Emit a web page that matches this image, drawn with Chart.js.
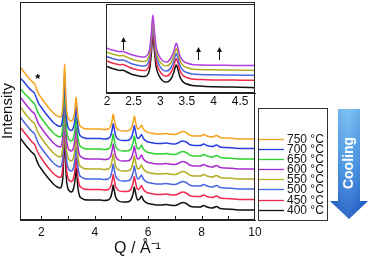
<!DOCTYPE html>
<html><head><meta charset="utf-8">
<script src="https://cdn.jsdelivr.net/npm/chart.js@4.4.1/dist/chart.umd.min.js"></script>
<style>
html,body{margin:0;padding:0;background:#fff;}
#wrap{position:relative;width:369px;height:258px;overflow:hidden;background:#fff;}
canvas{position:absolute;top:0;}
#main{left:0;}
#inset{left:100px;}
</style></head><body>
<div id="wrap"><canvas id="main" width="369" height="258"></canvas><canvas id="inset" width="160" height="110"></canvas></div>
<script>
// ---------- main panel data ----------
const q = [1.2,1.35,1.5,1.65,1.75,1.82,1.9,2.0,2.15,2.3,
  2.45,2.6,2.7,2.76,2.81,2.85,2.87,2.89,2.93,2.98,
  3.05,3.12,3.2,3.26,3.3,3.33,3.37,3.43,3.5,3.6,
  3.75,3.9,4.05,4.2,4.35,4.5,4.6,4.66,4.69,4.72,
  4.78,4.9,5.05,5.2,5.35,5.44,5.48,5.52,5.6,5.68,
  5.75,5.82,5.95,6.1,6.3,6.5,6.65,6.8,7.0,7.15,
  7.22,7.3,7.38,7.45,7.55,7.75,7.95,8.08,8.2,8.4,
  8.56,8.7,8.9,9.2,9.5,10.0];

const T750 = [153,148,143,138.5,136,131,126,122,116.5,111.5,
  107,104,103,105,116,143,156,143,115,104,
  100,99,102,111,123,116,103,95,93,91.5,
  91,91,91,91,90.5,91,94,101,106,102,
  94,90,89,89,91,98,104,99,91,92,
  95,91,88,87,86,86,86.5,86,85.5,87,
  88,88.5,88,87,85,84,84,85.5,84,83,
  84.5,82.5,82,81.5,81,81];
const T700 = [142,138,133,129,126.5,121.5,116.5,112.5,107,102,
  97.5,94.5,93.5,95.5,106.5,133.5,146.5,133.5,105.5,94.5,
  90.5,89.5,92.5,101.5,113.5,106.5,93.5,85.5,83.5,82,
  81.5,81.5,81.5,81.5,81,81.5,84.5,91.5,96.5,92.5,
  84.5,80.5,79.5,79.5,81.5,88.5,94.5,89.5,81.5,82.5,
  85.5,81.5,78.5,77.5,76.5,76.5,77,76.5,76,77.5,
  78.5,79,78.5,77.5,75.5,74.5,74.5,76,74.5,73.5,
  75,73,72.5,72,71.5,71.5];
const T650 = [132,127,123,118.5,116,111,106,102,96.5,91.5,
  87,84,83,85,96,123,136,123,95,84,
  80,79,82,91,103,96,83,75,73,71.5,
  71,71,71,71,70.5,71,74,81,86,82,
  74,70,69,69,71,78,84,79,71,72,
  75,71,68,67,66,66,66.5,66,65.5,67,
  68,68.5,68,67,65,64,64,65.5,64,63,
  64.5,62.5,62,61.5,61,61];
const T600 = [123,118,113,108.5,106,101,96,92,86.5,81.5,
  77,74,73,75,86,113,126,113,85,74,
  70,69,72,81,93,86,73,65,63,61.5,
  61,61,61,61,60.5,61,64,71,76,72,
  64,60,59,59,61,68,74,69,61,62,
  65,61,58,57,56,56,56.5,56,55.5,57,
  58,58.5,58,57,55,54,54,55.5,54,53,
  54.5,52.5,52,51.5,51,51];
const T550 = [114,108,103,98.5,96,91,86,82,76.5,71.5,
  67,64,63,65,76,103,116,103,75,64,
  60,59,62,71,83,76,63,55,53,51.5,
  51,51,51,51,50.5,51,54,61,66,62,
  54,50,49,49,51,58,64,59,51,52,
  55,51,48,47,46,46,46.5,46,45.5,47,
  48,48.5,48,47,45,44,44,45.5,44,43,
  44.5,42.5,42,41.5,41,41];
const T500 = [103.5,98,93,88.5,86,81,76,72,66.5,61.5,
  57,54,53,55,66,93,106,93,65,54,
  50,49,52,61,73,66,53,45,43,41.5,
  41,41,41,41,40.5,41,44,51,56,52,
  44,40,39,39,41,48,54,49,41,42,
  45,41,38,37,36,36,36.5,36,35.5,37,
  38,38.5,38,37,35,34,34,35.5,34,33,
  34.5,32.5,32,31.5,31,31];
const T450 = [93,88,83,78,75.5,70.5,66,62,56,51,
  46.5,43.5,42.5,44.5,56,83,96,83,55,43.5,
  39.5,38.5,41.5,50.5,63,55.5,42.5,34.5,32.5,31,
  30.5,30.5,30.5,30.5,30,30.5,33.5,40.5,45.5,41.5,
  33.5,29.5,28.5,28.5,30.5,37.5,43.5,38.5,30.5,31.5,
  34.5,30.5,27.5,26.5,25.5,25.5,26,25.5,25,26.5,
  27.5,28,27.5,26.5,24.5,23.5,23.5,25,23.5,22.5,
  24,22,21.5,21,20.5,20.5];
const T400 = [82,77,72,67.5,65,60,55,51,45.5,40.5,
  36,33,32,34,45,72,85,72,44,33,
  29,28,31,40,52,45,32,24,22,20.5,
  20,20,20,20,19.5,20,23,30,35,31,
  23,19,18,18,20,27,33,28,20,21,
  24,20,17,16,15,15,15.5,15,14.5,16,
  17,17.5,17,16,14,13,13,14.5,13,12,
  13.5,11.5,11,10.5,10,10];

const seriesLabels = ['750 °C','700 °C','650 °C','600 °C','550 °C','500 °C','450 °C','400 °C'];
const mainTicks = [2,4,6,8,10];
const mainTickLabels = ['2','4','6','8','10'];
const mainMinorTicks = [2,3,4,5,6,7,8,9];
const starQ = 1.87;
const starValue = 141;

// ---------- inset data ----------
const qIn = [2.0,2.1,2.2,2.25,2.3,2.35,2.45,2.55,2.65,2.72,
  2.77,2.8,2.83,2.86,2.89,2.92,2.97,3.05,3.12,3.2,
  3.25,3.28,3.3,3.33,3.37,3.43,3.5,3.6,3.75,4.0,
  4.25,4.5,4.78];
const In600 = [44.7,43,41.7,41.3,41.5,40.5,38.5,37,36,36.3,
  39,44,58,78,62,47,38,32,31,35,
  41,47,50,45.5,37,32,30,28.5,28,27.8,
  27.7,27.5,27.5];
const In550 = [40.7,39,37.7,37.2,37.4,36.5,34,32.5,31.5,31.7,
  34.5,39.5,53.5,73.5,57.5,42.5,33.5,28,27,30.5,
  36.5,42,44.5,40.5,32.5,27.5,25.5,24,23.5,23.2,
  23,22.8,22.6];
const In500 = [36.3,34.5,33.2,32.8,33,32,29.5,28,27,27.2,
  30,35,49,69,53,38,29,23,22,25.5,
  31.5,37,39.5,35.5,27.5,22.5,20.5,19,18.5,18.2,
  18,17.8,17.6];
const In450 = [32,30,28.7,28.3,28.6,27.5,25,23.5,22.5,22.5,
  25,30,44,64,48,33,24,18,17,20.5,
  26.5,32,34.5,30.5,22.5,17.5,15.5,14,13.5,13,
  13,12.8,12.6];
const In400 = [26.5,24.5,23,22.5,22.8,21.5,19,17.5,16.5,16.5,
  19,24,38,58,42,27,18,12,11,14,
  20,25.5,28,24,16,11,9,7.5,7,6.3,
  6,5.7,5.3];
const insetLabels = ['600 °C','550 °C','500 °C','450 °C','400 °C'];
const insetTicks = [2,2.5,3,3.5,4,4.5];
const insetTickLabels = ['2','2.5','3','3.5','4','4.5'];
const arrowQ = [2.3,3.7,4.1];
const arrowFrom = [43,33,33];
const arrowTo = [56,46,46];

// ---------- styles ----------
const FONT = '"Liberation Sans", Arial, Helvetica, sans-serif';
Chart.defaults.font.family = FONT;
Chart.defaults.color = '#000';
const mainColors = ['#f5a21e','#2b3fe0','#2fd22f','#a92bd0','#b3ad22','#4a66e0','#f02a4c','#111111'];
const insetColors = ['#b13ee0','#b3ad22','#4a66e0','#f02a4c','#111111'];

function mk(xs, ys){ return xs.map((x,i)=>({x:x, y:ys[i]})); }

const mainSeries = [T750,T700,T650,T600,T550,T500,T450,T400];
const mainDatasets = mainSeries.map((s,i)=>({
  label: seriesLabels[i], data: mk(q,s), borderColor: mainColors[i],
  borderWidth: 1.5, pointRadius: 0, cubicInterpolationMode: 'monotone', fill: false,
  order: i
}));

const mainDecor = {
  id: 'mainDecor',
  afterDraw(chart){
    const {ctx, chartArea:a, scales:{x,y}} = chart;
    ctx.save();
    ctx.strokeStyle = '#222'; ctx.lineWidth = 1;
    ctx.strokeRect(Math.round(a.left)+0.5, Math.round(a.top)+0.5, Math.round(a.right-a.left)-1, Math.round(a.bottom-a.top)-1);
    mainMinorTicks.forEach(v=>{
      const px = Math.round(x.getPixelForValue(v))+0.5;
      ctx.beginPath(); ctx.moveTo(px, a.bottom-1); ctx.lineTo(px, a.bottom-4); ctx.stroke();
    });
    // star
    ctx.fillStyle = '#000';
    ctx.font = 'bold 13px ' + FONT;
    ctx.textAlign = 'center'; ctx.textBaseline = 'middle';
    ctx.fillText('*', x.getPixelForValue(starQ), y.getPixelForValue(starValue));
    // legend box
    ctx.strokeStyle = '#333';
    ctx.strokeRect(258.5, 108.5, 69, 112);
    ctx.font = '12px ' + FONT;
    ctx.textAlign = 'left';
    chart.data.datasets.forEach((ds,i)=>{
      const last = ds.data[ds.data.length-1].y;
      const py = Math.round(y.getPixelForValue(last))+0.5;
      ctx.strokeStyle = ds.borderColor; ctx.lineWidth = 1.3;
      ctx.beginPath(); ctx.moveTo(259, py); ctx.lineTo(284, py); ctx.stroke();
      ctx.fillStyle = '#111';
      ctx.fillText(ds.label, 287, py+0.5);
    });
    // cooling arrow
    ctx.beginPath();
    ctx.moveTo(338,109); ctx.lineTo(360,109); ctx.lineTo(360,201); ctx.lineTo(368,201);
    ctx.lineTo(349,219); ctx.lineTo(330,201); ctx.lineTo(338,201); ctx.closePath();
    const g = ctx.createLinearGradient(0,109,0,219);
    g.addColorStop(0,'#6cbaf3'); g.addColorStop(0.55,'#3a8ee2'); g.addColorStop(1,'#1553c2');
    ctx.fillStyle = g; ctx.fill();
    const h = ctx.createLinearGradient(330,0,368,0);
    h.addColorStop(0,'rgba(0,40,140,0.25)'); h.addColorStop(0.45,'rgba(255,255,255,0.12)'); h.addColorStop(1,'rgba(0,40,140,0.2)');
    ctx.fillStyle = h; ctx.fill();
    ctx.translate(349,163); ctx.rotate(-Math.PI/2);
    ctx.fillStyle = '#fff'; ctx.font = 'bold 14px ' + FONT;
    ctx.textAlign = 'center'; ctx.textBaseline = 'middle';
    ctx.fillText('Cooling',0,0);
    ctx.restore();
  }
};

new Chart(document.getElementById('main'), {
  type: 'line',
  data: { datasets: mainDatasets },
  options: {
    responsive: false, animation: false, devicePixelRatio: 1,
    layout: { padding: { left:0, right:114, top:2, bottom:0 } },
    plugins: { legend:{display:false}, tooltip:{enabled:false} },
    scales: {
      x: {
        type:'linear', min:1.2, max:10,
        afterBuildTicks: s => { s.ticks = mainTicks.map(v=>({value:v})); },
        afterFit: s => { s.height = 38; },
        ticks: { font:{size:12}, color:'#111', padding:5, maxRotation:0, autoSkip:false,
          callback: (v,i) => mainTickLabels[i] },
        grid: { display:false, drawTicks:false },
        border: { display:true, color:'#222', width:1 },
        title: { display:true, text:'Q / Å⁻¹', font:{size:16, lineHeight:1.2}, color:'#111', padding:{top:0,bottom:0} }
      },
      y: {
        min:0, max:218,
        afterFit: s => { s.width = 20; },
        ticks: { display:false },
        grid: { display:false, drawTicks:false },
        border: { display:true, color:'#222', width:1 },
        title: { display:true, text:'Intensity', font:{size:15, lineHeight:1}, color:'#111', padding:{top:0,bottom:0} }
      }
    }
  },
  plugins: [mainDecor]
});

// ---------- inset ----------
const insetSeries = [In600,In550,In500,In450,In400];
const insetDecor = {
  id:'insetDecor',
  beforeDatasetsDraw(chart){
    const {ctx, chartArea:a} = chart;
    ctx.save(); ctx.fillStyle='#fff'; ctx.fillRect(a.left,a.top,a.right-a.left,a.bottom-a.top); ctx.restore();
  },
  afterDraw(chart){
    const {ctx, chartArea:a, scales:{x,y}} = chart;
    ctx.save();
    ctx.strokeStyle='#222'; ctx.lineWidth=1;
    ctx.strokeRect(Math.round(a.left)+0.5, Math.round(a.top)+0.5, Math.round(a.right-a.left)-1, Math.round(a.bottom-a.top)-1);
    ctx.fillStyle='#111'; ctx.strokeStyle='#111';
    arrowQ.forEach((v,i)=>{
      const px = Math.round(x.getPixelForValue(v))+0.5;
      const y0 = y.getPixelForValue(arrowFrom[i]);
      const y1 = y.getPixelForValue(arrowTo[i]);
      ctx.beginPath(); ctx.moveTo(px,y0); ctx.lineTo(px,y1+3); ctx.stroke();
      ctx.beginPath(); ctx.moveTo(px,y1); ctx.lineTo(px-2.5,y1+5); ctx.lineTo(px+2.5,y1+5); ctx.closePath(); ctx.fill();
    });
    ctx.restore();
  }
};
new Chart(document.getElementById('inset'), {
  type:'line',
  data:{ datasets: insetSeries.map((s,i)=>({
    label: insetLabels[i], data: mk(qIn,s), borderColor: insetColors[i], borderWidth:1.5,
    pointRadius:0, cubicInterpolationMode:'monotone', fill:false
  })) },
  options:{
    responsive:false, animation:false, devicePixelRatio:1,
    layout:{ padding:{left:0,right:5,top:4,bottom:0} },
    plugins:{ legend:{display:false}, tooltip:{enabled:false} },
    scales:{
      x:{ type:'linear', min:1.98, max:4.78,
        afterBuildTicks: s => { s.ticks = insetTicks.map(v=>({value:v})); },
        afterFit: s => { s.height = 17; },
        ticks:{ font:{size:12}, color:'#111', padding:1, maxRotation:0, autoSkip:false,
          callback: (v,i) => insetTickLabels[i] },
        grid:{ display:false, drawTicks:false },
        border:{ display:true, color:'#222' } },
      y:{ min:0, max:89,
        afterFit: s => { s.width = 6; },
        ticks:{ display:false },
        grid:{ display:false, drawTicks:false },
        border:{ display:true, color:'#222' } }
    }
  },
  plugins:[insetDecor]
});
</script>
</body></html>
